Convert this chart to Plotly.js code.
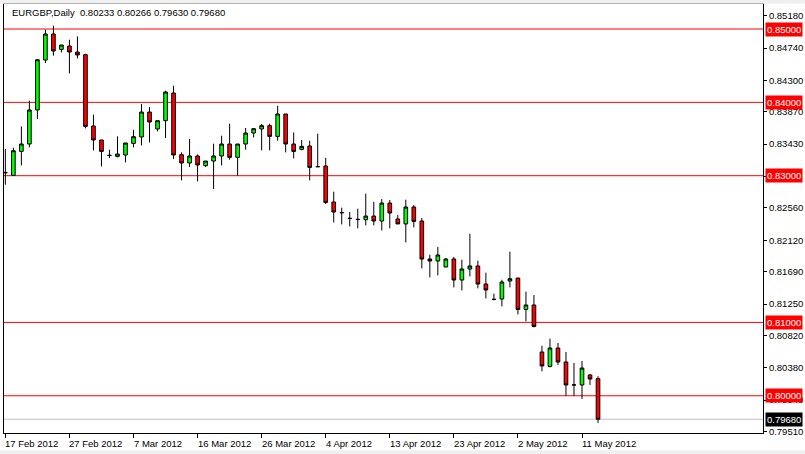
<!DOCTYPE html>
<html>
<head>
<meta charset="utf-8">
<script src="https://cdn.plot.ly/plotly-3.0.1.min.js"></script>
<style>
html,body{margin:0;padding:0;background:#ffffff;}
#chart{width:805px;height:454px;}
</style>
</head>
<body>
<div id="chart"></div>
<script>
// ---- data ----
const symbol = "EURGBP";
const period = "Daily";
const dates = [
  "2012-02-17","2012-02-19","2012-02-20","2012-02-21","2012-02-22","2012-02-23","2012-02-24","2012-02-26",
  "2012-02-27","2012-02-28","2012-02-29","2012-03-01","2012-03-02","2012-03-04","2012-03-05","2012-03-06",
  "2012-03-07","2012-03-08","2012-03-09","2012-03-11","2012-03-12","2012-03-13","2012-03-14","2012-03-15",
  "2012-03-16","2012-03-18","2012-03-19","2012-03-20","2012-03-21","2012-03-22","2012-03-23","2012-03-25",
  "2012-03-26","2012-03-27","2012-03-28","2012-03-29","2012-03-30","2012-04-01","2012-04-02","2012-04-03",
  "2012-04-04","2012-04-05","2012-04-06","2012-04-08","2012-04-09","2012-04-10","2012-04-11","2012-04-12",
  "2012-04-13","2012-04-15","2012-04-16","2012-04-17","2012-04-18","2012-04-19","2012-04-20","2012-04-22",
  "2012-04-23","2012-04-24","2012-04-25","2012-04-26","2012-04-27","2012-04-29","2012-04-30","2012-05-01",
  "2012-05-02","2012-05-03","2012-05-04","2012-05-06","2012-05-07","2012-05-08","2012-05-09","2012-05-10",
  "2012-05-11","2012-05-13","2012-05-14"
];
const openP = [
  0.83045,0.83004,0.83331,0.83432,0.83896,0.84577,0.84932,0.84722,
  0.84768,0.84686,0.84650,0.83678,0.83487,0.83277,0.83263,0.83282,
  0.83440,0.83528,0.83868,0.83637,0.83750,0.84127,0.83286,0.83173,
  0.83269,0.83136,0.83200,0.83269,0.83432,0.83250,0.83432,0.83582,
  0.83637,0.83682,0.83536,0.83841,0.83432,0.83359,0.83405,0.83123,
  0.83132,0.82641,0.82496,0.82418,0.82404,0.82400,0.82450,0.82382,
  0.82627,0.82410,0.82342,0.82573,0.82382,0.81864,0.81837,0.81755,
  0.81864,0.81578,0.81728,0.81769,0.81523,0.81314,0.81319,0.81564,
  0.81605,0.81177,0.81237,0.80596,0.80400,0.80651,0.80460,0.80147,
  0.80147,0.80283,0.80233
];
const highP = [
  0.83364,0.83382,0.83672,0.84022,0.84591,0.84991,0.85045,0.84782,
  0.84854,0.84899,0.84663,0.83832,0.83487,0.83354,0.83536,0.83446,
  0.83627,0.83978,0.83937,0.83750,0.84159,0.84227,0.83318,0.83500,
  0.83290,0.83200,0.83436,0.83545,0.83709,0.83432,0.83650,0.83650,
  0.83705,0.83709,0.83954,0.83841,0.83590,0.83487,0.83477,0.83573,
  0.83241,0.82782,0.82564,0.82505,0.82550,0.82755,0.82645,0.82682,
  0.82669,0.82464,0.82673,0.82600,0.82423,0.81923,0.82030,0.81878,
  0.81892,0.81855,0.82209,0.81841,0.81678,0.81391,0.81582,0.81964,
  0.81605,0.81419,0.81373,0.80682,0.80778,0.80719,0.80596,0.80447,
  0.80474,0.80297,0.80266
];
const lowP = [
  0.82877,0.83000,0.83140,0.83386,0.83773,0.84536,0.84636,0.84681,
  0.84395,0.84599,0.83645,0.83345,0.83127,0.83241,0.83250,0.83181,
  0.83386,0.83413,0.83454,0.83604,0.83514,0.83228,0.82936,0.83119,
  0.82922,0.83119,0.82819,0.83140,0.83218,0.83000,0.83354,0.83522,
  0.83345,0.83345,0.83477,0.83318,0.83236,0.83345,0.82936,0.83118,
  0.82614,0.82363,0.82336,0.82309,0.82282,0.82323,0.82323,0.82254,
  0.82282,0.82342,0.82091,0.82295,0.81736,0.81613,0.81641,0.81755,
  0.81477,0.81436,0.81627,0.81464,0.81327,0.81300,0.81218,0.81477,
  0.81109,0.81014,0.80932,0.80332,0.80387,0.80419,0.79997,0.79997,
  0.79956,0.80147,0.79630
];
const closeP = [
  0.83040,0.83341,0.83432,0.83896,0.84581,0.84932,0.84700,0.84782,
  0.84686,0.84646,0.83672,0.83487,0.83331,0.83277,0.83296,0.83446,
  0.83532,0.83868,0.83732,0.83750,0.84141,0.83282,0.83173,0.83269,
  0.83146,0.83200,0.83269,0.83432,0.83250,0.83432,0.83582,0.83641,
  0.83682,0.83536,0.83841,0.83432,0.83331,0.83400,0.83113,0.83123,
  0.82636,0.82505,0.82496,0.82418,0.82404,0.82450,0.82382,0.82627,
  0.82491,0.82342,0.82573,0.82377,0.81864,0.81837,0.81919,0.81864,
  0.81578,0.81728,0.81769,0.81523,0.81442,0.81314,0.81551,0.81596,
  0.81177,0.81237,0.80945,0.80406,0.80651,0.80460,0.80147,0.80147,
  0.80378,0.80228,0.79680
];
const xTickDates = ["2012-02-17","2012-02-27","2012-03-07","2012-03-16","2012-03-26","2012-04-04","2012-04-13","2012-04-23","2012-05-02","2012-05-11"];
const xTickLabels = ["17 Feb 2012","27 Feb 2012","7 Mar 2012","16 Mar 2012","26 Mar 2012","4 Apr 2012","13 Apr 2012","23 Apr 2012","2 May 2012","11 May 2012"];
const yTickVals = [0.85180,0.84740,0.84300,0.83870,0.83430,0.82990,0.82560,0.82120,0.81690,0.81250,0.80820,0.80380,0.79940,0.79510];
const yTickLabels = ["0.85180","0.84740","0.84300","0.83870","0.83430","","0.82560","0.82120","0.81690","0.81250","0.80820","0.80380","0.79940","0.79510"];
const levelLines = [0.85,0.84,0.83,0.81,0.80];
const yRange = [0.794921, 0.853408];
const xRange = [-0.17, 94.6];

// ---- styles ----
const FONT = '"Liberation Sans", Arial, sans-serif';
const FS = 9.5;
const last = closeP.length - 1;
const bidPrice = closeP[last];

const trace = {
  type: 'candlestick',
  x: dates, open: openP, high: highP, low: lowP, close: closeP,
  increasing: {line: {color: '#000000', width: 1}, fillcolor: '#00ff00'},
  decreasing: {line: {color: '#000000', width: 1}, fillcolor: '#ff0000'},
  whiskerwidth: 0,
  hoverinfo: 'skip',
  showlegend: false
};

const shapes = [];
levelLines.forEach(v => shapes.push({
  type: 'line', xref: 'paper', x0: 0, x1: 1, yref: 'y', y0: v, y1: v,
  line: {color: '#ff0000', width: 1}, layer: 'below'
}));
shapes.push({type: 'line', xref: 'paper', x0: 0, x1: 1, yref: 'y', y0: bidPrice, y1: bidPrice,
  line: {color: '#c0c0c0', width: 1}, layer: 'below'});
// window frame strips
shapes.push({type: 'rect', xref: 'paper', yref: 'paper', x0: -0.01, x1: 1.06, y0: 1.0005, y1: 1.012,
  fillcolor: '#f0f0f0', line: {width: 0}});
shapes.push({type: 'rect', xref: 'paper', yref: 'paper', x0: -0.01, x1: 1.06, y0: -0.04, y1: -0.055,
  fillcolor: '#f0f0f0', line: {width: 0}});

const annotations = [];
annotations.push({
  xref: 'paper', yref: 'paper', x: 0, y: 1, xanchor: 'left', yanchor: 'top',
  xshift: 7, yshift: -2, showarrow: false, borderpad: 0,
  text: symbol + ',' + period + '&nbsp;&nbsp;' + [openP[last], highP[last], lowP[last], closeP[last]].map(v => v.toFixed(5)).join(' '),
  font: {family: FONT, size: FS, color: '#000000'}
});
xTickDates.forEach((d, i) => annotations.push({
  xref: 'x', yref: 'paper', x: d, y: 0, xanchor: 'left', yanchor: 'top',
  xshift: -1, yshift: -4, showarrow: false, borderpad: 0,
  text: xTickLabels[i], font: {family: FONT, size: FS, color: '#000000'}
}));
levelLines.forEach(v => annotations.push({
  xref: 'paper', yref: 'y', x: 1, y: v, xanchor: 'left', yanchor: 'middle',
  xshift: 2, showarrow: false, borderpad: 1, bgcolor: '#ff0000',
  text: v.toFixed(5), font: {family: FONT, size: FS, color: '#ffffff'}
}));
annotations.push({
  xref: 'paper', yref: 'y', x: 1, y: bidPrice, xanchor: 'left', yanchor: 'middle',
  xshift: 2, showarrow: false, borderpad: 1, bgcolor: '#000000',
  text: bidPrice.toFixed(5), font: {family: FONT, size: FS, color: '#ffffff'}
});

const layout = {
  width: 805, height: 454,
  margin: {l: 4, r: 42, t: 4, b: 21, pad: 0},
  paper_bgcolor: '#ffffff', plot_bgcolor: '#ffffff',
  boxgap: 0.35,
  xaxis: {
    type: 'category', range: xRange, rangeslider: {visible: false},
    showgrid: false, zeroline: false,
    showline: true, mirror: true, linecolor: '#000000', linewidth: 1,
    ticks: 'outside', ticklen: 4, tickcolor: '#000000', tickwidth: 1,
    tickmode: 'array', tickvals: xTickDates, showticklabels: false,
    fixedrange: true
  },
  yaxis: {
    side: 'right', range: yRange,
    showgrid: false, zeroline: false,
    showline: true, mirror: true, linecolor: '#000000', linewidth: 1,
    ticks: 'outside', ticklen: 3, tickcolor: '#000000', tickwidth: 1,
    tickmode: 'array', tickvals: yTickVals, ticktext: yTickLabels,
    tickfont: {family: FONT, size: FS, color: '#000000'},
    fixedrange: true
  },
  shapes: shapes,
  annotations: annotations,
  showlegend: false,
  hovermode: false
};

Plotly.newPlot('chart', [trace], layout, {displayModeBar: false, staticPlot: true});
</script>
</body>
</html>
